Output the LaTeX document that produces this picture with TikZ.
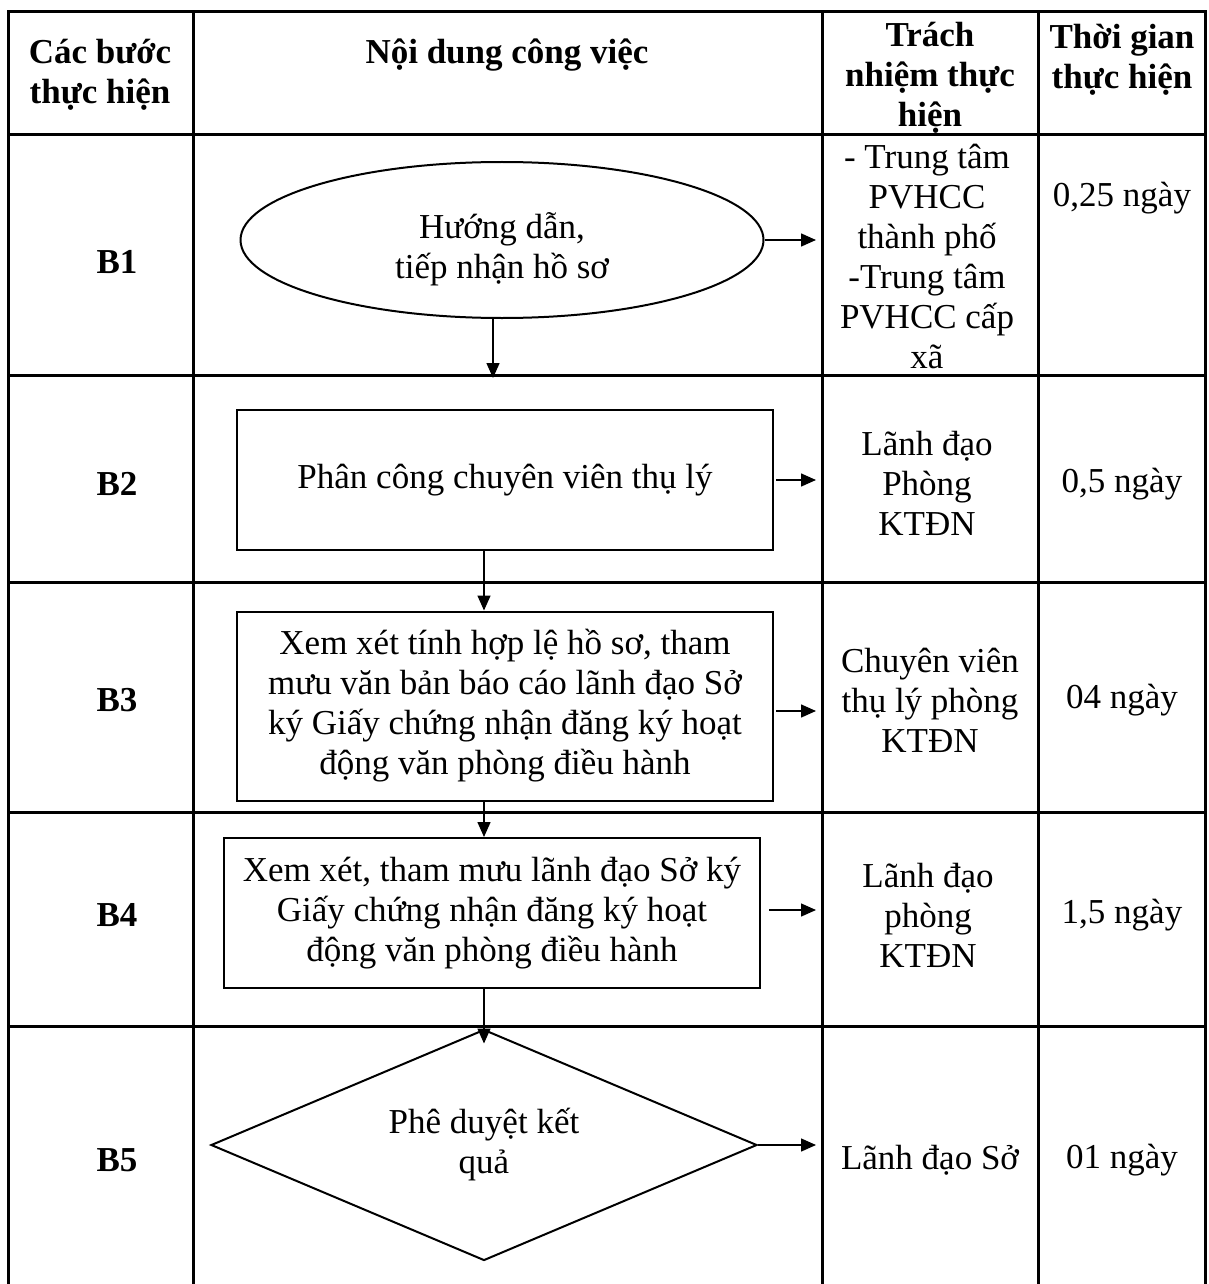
\documentclass[tikz,border=0pt]{standalone}
\usepackage{fontspec}
\setmainfont{Liberation Serif}
\usetikzlibrary{arrows.meta,positioning,calc,shapes.geometric}

\begin{document}
\begin{tikzpicture}[
  x=1pt, y=-1pt,
  font=\fontsize{35}{40}\selectfont,
  grid/.style={line width=3pt},
  box/.style={draw, line width=2pt, minimum width=536pt, align=center, inner sep=0pt},
  oval/.style={draw, ellipse, line width=2pt, minimum width=523pt,
               minimum height=156pt, align=center, inner sep=0pt},
  decide/.style={draw, diamond, aspect=2.36, line width=2pt, minimum width=546pt,
                 minimum height=231pt, inner sep=0pt, align=center},
  head/.style={align=center, font=\fontsize{35}{40}\selectfont\bfseries},
  cell/.style={align=center},
  arr/.style={line width=1.5pt, -{Triangle[length=15pt,width=13pt]}}
]
\useasboundingbox (0,0) rectangle (1208,1284);

% table frame
\draw[grid] (8,1284) -- (8,12) -- (1205,12) -- (1205,1284);
\foreach \x in {193,822,1038} \draw[grid] (\x,12) -- (\x,1284);
\foreach \y in {135,375,582,812,1026} \draw[grid] (8,\y) -- (1205,\y);

% header
\node[head] (h1) at (100,75) {Các bước\\thực hiện};
\node[head] (h2) at (507,55) {Nội dung công việc};
\node[head] (h3) at (930,78) {Trách\\nhiệm thực\\hiện};
\node[head] (h4) at (1122,60) {Thời gian\\thực hiện};

% steps
\foreach \s/\y in {1/262, 2/484, 3/700, 4/915, 5/1160}
  \node[head] (s\s) at (117,\y) {B\s};

% flow
\node[oval] (b1) at (502,240) {\raisebox{-10pt}[\height][\depth]{\begin{tabular}{@{}c@{}}Hướng dẫn,\\tiếp nhận hồ sơ\end{tabular}}};
\node[box, minimum height=140pt] (b2) at (505,480) {Phân công chuyên viên thụ lý};
\node[box, minimum height=189pt] (b3) at (505,706)
  {Xem xét tính hợp lệ hồ sơ, tham\\mưu văn bản báo cáo lãnh đạo Sở\\ký Giấy chứng nhận đăng ký hoạt\\động văn phòng điều hành};
\node[box, minimum height=150pt] (b4) at (492,913)
  {Xem xét, tham mưu lãnh đạo Sở ký\\Giấy chứng nhận đăng ký hoạt\\động văn phòng điều hành};
\node[decide] (b5) at (484,1145) {Phê duyệt kết\\quả};

% responsibility
\node[cell] (r1) at (927,256) {- Trung tâm\\PVHCC\\thành phố\\-Trung tâm\\PVHCC cấp\\xã};
\node[cell] (r2) at (927,483) {Lãnh đạo\\Phòng\\KTĐN};
\node[cell] (r3) at (930,700) {Chuyên viên\\thụ lý phòng\\KTĐN};
\node[cell] (r4) at (928,915) {Lãnh đạo\\phòng\\KTĐN};
\node[cell] (r5) at (930,1160) {Lãnh đạo Sở};

% time
\node[cell] (t1) at (1122,198) {0,25 ngày};
\node[cell] (t2) at (1122,484) {0,5 ngày};
\node[cell] (t3) at (1122,700) {04 ngày};
\node[cell] (t4) at (1122,915) {1,5 ngày};
\node[cell] (t5) at (1122,1160) {01 ngày};

% arrows
\coordinate (col3) at (816,0);
\coordinate (l2) at (493,378);
\draw[arr] (b1.east) -- (b1.east -| col3);
\draw[arr, shorten <=2pt] (b2.east) -- (b2.east -| col3);
\draw[arr, shorten <=2pt] ([yshift=-5pt]b3.east) -- ([yshift=-5pt]b3.east -| col3);
\draw[arr, shorten <=8pt] ([yshift=3pt]b4.east) -- ([yshift=3pt]b4.east -| col3);
\draw[arr] (b5.east) -- (b5.east -| col3);

\draw[arr] (b1.south -| l2) -- (l2);
\draw[arr] (b2.south -| b5.north) -- (b3.north -| b5.north);
\draw[arr] (b3.south -| b5.north) -- (b4.north -| b5.north);
\draw[arr] (b4.south -| b5.north) -- ([yshift=-15pt]b5.north);
\end{tikzpicture}
\end{document}
